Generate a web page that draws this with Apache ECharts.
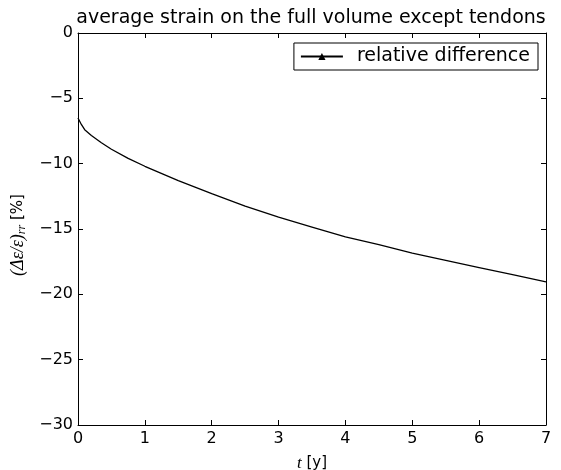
<!DOCTYPE html>
<html>
<head>
<meta charset="utf-8">
<script src="https://cdn.jsdelivr.net/npm/echarts@6/dist/echarts.min.js"></script>
<style>
  html, body { margin: 0; padding: 0; background: #fff; }
  #chart { width: 561px; height: 470px; }
</style>
</head>
<body>
<div id="chart"></div>
<script>
// time in years
var years = [0, 0.05, 0.1, 0.2, 0.35, 0.5, 0.75, 1, 1.5, 2, 2.5, 3, 3.5, 4, 4.5, 5, 5.5, 6, 6.5, 7];
// relative strain difference in percent
var relDiff = [-6.5, -7.0, -7.4, -7.85, -8.4, -8.9, -9.6, -10.2, -11.3, -12.3, -13.25, -14.1, -14.85, -15.6, -16.2, -16.85, -17.4, -17.95, -18.5, -19.05];
var xTicks = [0, 1, 2, 3, 4, 5, 6, 7];
var yTicks = [-30, -25, -20, -15, -10, -5, 0];

var FONT = 'DejaVu Sans';
var points = years.map(function (t, i) { return [t, relDiff[i]]; });
function minus(v) { return String(v).replace('-', '\u2212'); }

var chart = echarts.init(document.getElementById('chart'), null, { renderer: 'canvas' });
var tickCommon = { show: true, inside: true, length: 5, lineStyle: { color: '#000', width: 1 } };
var lineCommon = { show: true, onZero: false, lineStyle: { color: '#000', width: 1 } };

chart.setOption({
  animation: false,
  backgroundColor: '#fff',
  title: {
    text: 'average strain on the full volume except tendons',
    left: 306, textAlign: 'center', top: 4,
    textStyle: { fontFamily: FONT, fontWeight: 'normal', fontSize: 19, color: '#000' }
  },
  legend: {
    data: ['relative difference'],
    right: 23, top: 43,
    orient: 'vertical',
    padding: [4, 8, 4, 6],
    borderColor: '#000', borderWidth: 1, borderRadius: 0,
    itemWidth: 42, itemHeight: 9, itemGap: 0,
    textStyle: { fontFamily: FONT, fontSize: 19, color: '#000', padding: [0, 0, 0, 9] }
  },
  grid: { left: 78, right: 15, top: 33, bottom: 45, containLabel: false, outerBoundsMode: 'none' },
  xAxis: [{
    type: 'value', min: 0, max: 7, interval: 1, position: 'bottom',
    name: '{i|t} {n|[y]}', nameLocation: 'middle', nameGap: 30,
    nameTextStyle: { fontFamily: FONT, fontSize: 15, color: '#000',
      rich: {
        i: { fontFamily: 'Liberation Serif', fontSize: 17, fontStyle: 'italic', color: '#000' },
        n: { fontFamily: FONT, fontSize: 15, color: '#000' }
      } },
    axisLine: lineCommon, axisTick: tickCommon,
    axisLabel: { fontFamily: FONT, fontSize: 16, color: '#000', margin: 6 },
    splitLine: { show: false }
  }, {
    type: 'value', min: 0, max: 7, interval: 1, position: 'top',
    axisLine: lineCommon, axisTick: tickCommon,
    axisLabel: { show: false }, splitLine: { show: false }
  }],
  yAxis: [{
    type: 'value', min: -30, max: 0, interval: 5, position: 'left',
    name: '{n|(\u0394\u03b5/\u03b5)}{s|rr}{u| [%]}', nameLocation: 'middle', nameGap: 49,
    nameRotate: 90,
    nameTextStyle: { fontFamily: FONT, fontSize: 15, color: '#000', padding: [0, 12, 0, 0],
      rich: {
        n: { fontFamily: 'Liberation Serif', fontSize: 18, fontStyle: 'italic', color: '#000' },
        s: { fontFamily: 'Liberation Serif', fontSize: 12, fontStyle: 'italic', color: '#000', padding: [9, 0, 0, 0] },
        u: { fontFamily: FONT, fontSize: 15, color: '#000' }
      } },
    axisLine: lineCommon, axisTick: tickCommon,
    axisLabel: { fontFamily: FONT, fontSize: 16, color: '#000', margin: 5, formatter: minus },
    splitLine: { show: false }
  }, {
    type: 'value', min: -30, max: 0, interval: 5, position: 'right',
    axisLine: lineCommon, axisTick: tickCommon,
    axisLabel: { show: false }, splitLine: { show: false }
  }],
  series: [{
    name: 'relative difference',
    type: 'line',
    data: points,
    smooth: false,
    symbol: 'triangle', symbolSize: 9,
    showSymbol: false,
    itemStyle: { color: '#000' },
    lineStyle: { color: '#000', width: 1.3 }
  }]
});
</script>
</body>
</html>
